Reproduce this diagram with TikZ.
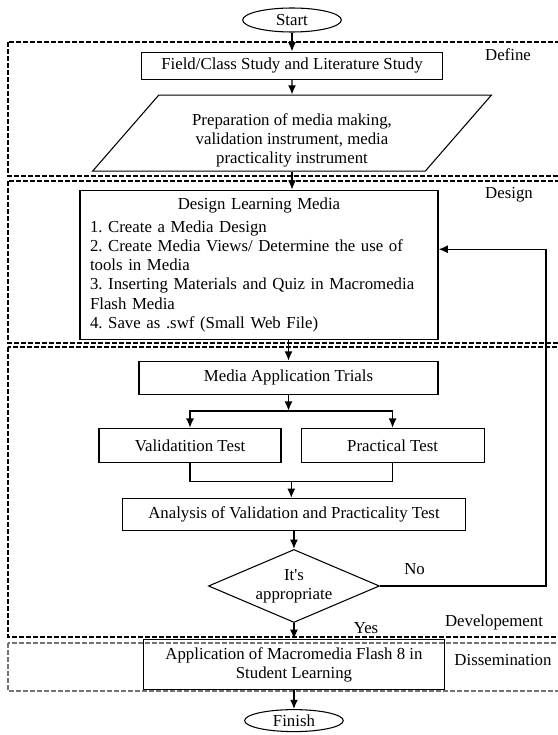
\documentclass[tikz,border=0pt]{standalone}
\usepackage{fontspec}
\setmainfont{Liberation Serif}
\usetikzlibrary{arrows.meta,positioning,shapes.geometric,calc}

\begin{document}
\begin{tikzpicture}[
    x=0.75pt, y=-0.75pt,
    font=\fontsize{12.6pt}{14.4pt}\selectfont\frenchspacing,
    term/.style={draw, ellipse, minimum width=74pt, minimum height=18pt, inner sep=1pt, line width=0.8pt},
    block/.style={draw, align=center, inner sep=2pt, line width=0.8pt},
    io/.style={draw, trapezium, trapezium left angle=55.5, trapezium right angle=124.5, trapezium stretches=true, align=center, inner sep=2pt, line width=0.8pt},
    cond/.style={draw, diamond, aspect=2.34, align=center, inner sep=0pt, line width=0.8pt},
    arrow/.style={-{Latex[length=7pt,width=6pt]}, line width=1.1pt},
    link/.style={line width=0.8pt},
    phase/.style={line width=1.2pt, dash pattern=on 3.5pt off 1.75pt},
    tag/.style={inner sep=0pt}
]
\useasboundingbox (0,0) rectangle (557,735);
% phase frames
\draw[phase] (8,42) rectangle (570,176);
\draw[phase] (8,181) rectangle (570,343);
\draw[phase] (8,347) rectangle (570,637);
\draw[phase, black!55, line width=0.8pt] (8,643) rectangle (570,691);
\node[tag] (define) at (508,55) {Define};
\node[tag] (design-tag) at (509,195) {Design};
\node[tag] (develop) at (494,622) {Developement};
\node[tag] (dissem) at (503,660) {Dissemination};
% main flow
\node[term] (start) at (292,20) {Start};
\node[block, minimum width=225.75pt, minimum height=20.25pt, below=14.25pt of start] (field) {Field/Class Study and Literature Study};
\node[io, minimum width=300pt, minimum height=57pt, below=11.25pt of field] (prep) {\rule{0pt}{20pt}Preparation of media making,\\validation instrument, media\\practicality instrument};
\node[block, align=left, text width=253.5pt, minimum height=111.75pt, inner xsep=7.5pt, inner ysep=3pt, below=13.5pt of prep, xshift=-24.75pt] (design) {\hfill Design Learning Media\hfill\null\\[2.8pt]
1. Create a Media Design\\
2. Create Media Views/ Determine the use of\\
tools in Media\\
3. Inserting Materials and Quiz in Macromedia\\
Flash Media\\
4. Save as .swf (Small Web File)};
\node[block, minimum width=224.25pt, minimum height=24.75pt, below=15.75pt of design, xshift=22.125pt] (trial) {Media Application Trials};
\node[block, minimum width=136.5pt, minimum height=25.5pt, below=24.75pt of trial, xshift=-73.875pt] (valid) {Validatition Test};
\node[block, minimum width=137.25pt, minimum height=25.5pt, right=14.25pt of valid] (pract) {Practical Test};
\coordinate[below=12pt of trial] (fork);
\coordinate[below=14.25pt of $(valid.south)!0.5!(pract.south)$] (join);
\node[block, minimum width=257.25pt, minimum height=24pt, below=12pt of join, xshift=2pt] (analysis) {Analysis of Validation and Practicality Test};
\node[cond, minimum width=128.25pt, minimum height=54.75pt, below=13.5pt of analysis] (check) {It\textquotesingle s\\appropriate};
\node[block, minimum width=225.75pt, minimum height=37.5pt, below=12pt of check] (apply) {Application of Macromedia Flash 8 in\\Student Learning};
\node[term, minimum height=16.5pt, below=14.25pt of apply] (finish) {Finish};
\node[tag, right=18pt of check.east, yshift=12.4pt] (no) {No};
\node[tag, right=44.7pt of check.south, yshift=-3.75pt] (yes) {Yes};
\coordinate (back) at (546,0);
% connectors
\draw[arrow] (start) -- (field);
\draw[arrow] (field) -- (prep);
\draw[arrow] (prep.south) -- (prep.south |- design.north);
\draw[arrow] (design.south -| trial.north) -- (trial.north);
\draw[arrow] (trial) -- (fork);
\draw[arrow] (fork) -| (valid);
\draw[arrow] (fork) -| (pract);
\draw[link] (valid) |- (join) -| (pract);
\draw[arrow] (join) -- (join |- analysis.north);
\draw[arrow] (analysis) -- (check);
\draw[arrow] (check) -- (apply);
\draw[arrow] (apply) -- (finish);
\draw[arrow] (check.east) -- (check.east -| back) |- ([yshift=11.6pt]design.east);
\end{tikzpicture}
\end{document}
